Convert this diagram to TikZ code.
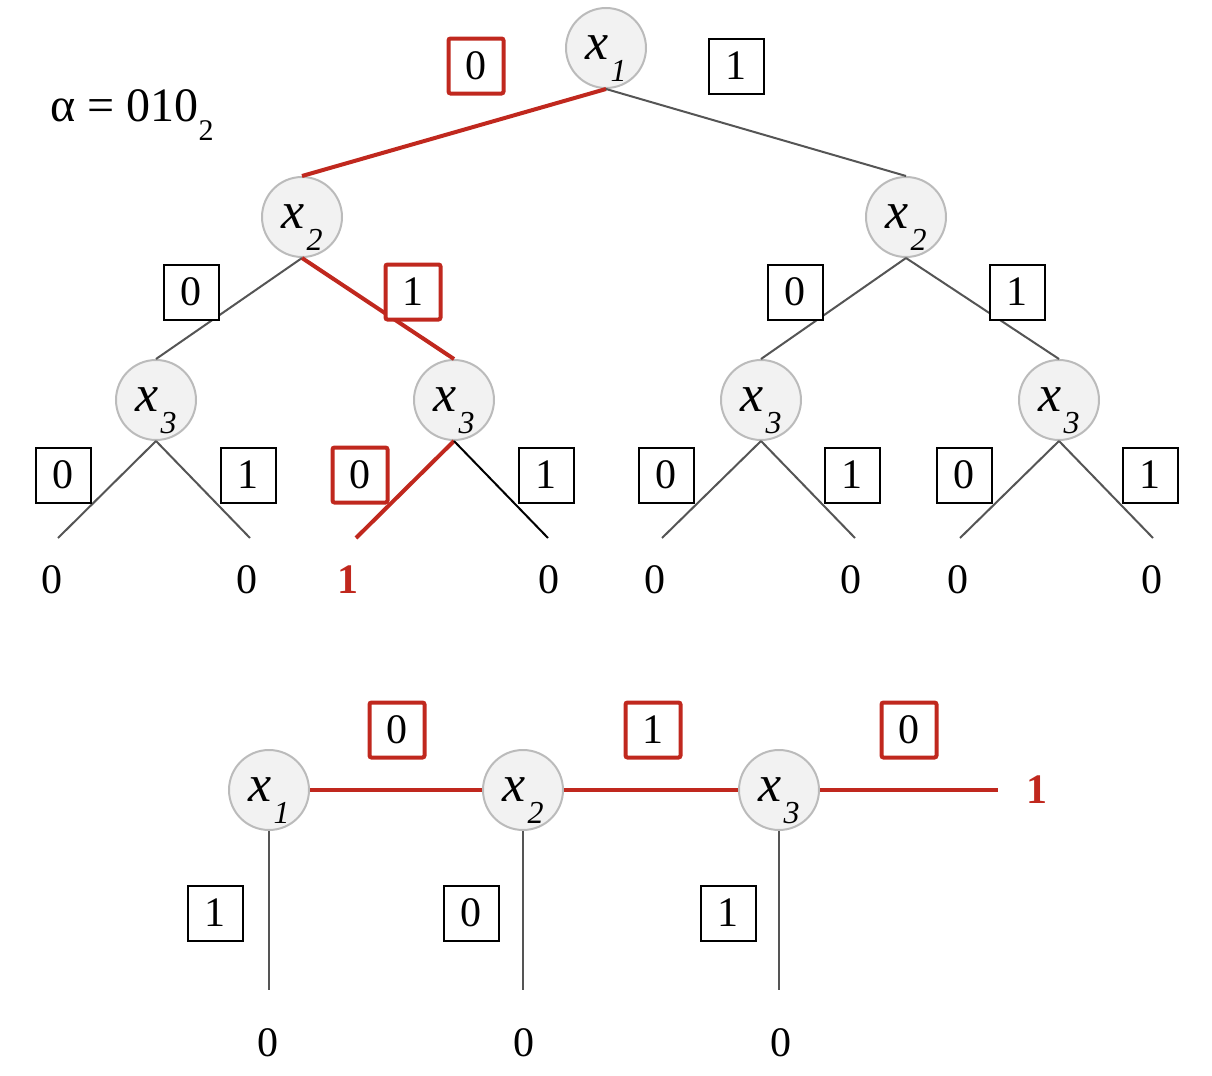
\documentclass[tikz,border=0pt]{standalone}
\usepackage{fontspec}
\setmainfont{Liberation Serif}
\definecolor{myred}{HTML}{C0281E}
\definecolor{edgegray}{HTML}{555555}
\definecolor{circgray}{HTML}{BBBBBB}
\definecolor{circfill}{HTML}{F2F2F2}
\newcommand\nvar[1]{\textit{x}\kern1pt\raisebox{-11pt}[0pt][0pt]{\fontsize{16}{16}\selectfont\textit{#1}}}
\tikzset{
  var/.style={circle, draw=circgray, fill=circfill, line width=1pt, minimum size=40pt, inner sep=0pt, font=\fontsize{26}{26}\selectfont},
  lab/.style={draw=black, line width=1pt, fill=white, minimum size=27.5pt, inner sep=0pt, font=\fontsize{21}{21}\selectfont},
  redlab/.style={lab, draw=myred, line width=2pt, rounded corners=1pt},
  leaf/.style={inner sep=0pt, font=\fontsize{21}{21}\selectfont},
  redleaf/.style={inner sep=0pt, text=myred, font=\fontsize{21}{21}\selectfont\bfseries},
  edge/.style={draw=edgegray, line width=1pt},
  redge/.style={draw=myred, line width=2pt},
}
\begin{document}
\begin{tikzpicture}[x=0.5pt,y=-0.5pt]
\useasboundingbox (0,0) rectangle (1212,1076);
% alpha label
\node[anchor=base west, inner sep=0pt, font=\fontsize{24}{24}\selectfont] (alpha) at (50,121) {α = 010\raisebox{-9.5pt}{\fontsize{15}{15}\selectfont 2}};
% top tree nodes
\node[var] (a) at (606,48) {\nvar{1}};
\node[var] (bl) at (302,217) {\nvar{2}};
\node[var] (br) at (906,217) {\nvar{2}};
\node[var] (c1) at (156,400) {\nvar{3}};
\node[var] (c2) at (454,400) {\nvar{3}};
\node[var] (c3) at (761,400) {\nvar{3}};
\node[var] (c4) at (1059,400) {\nvar{3}};
% leaf coordinates
\coordinate (l1) at (58,538);  \coordinate (l2) at (250,538);
\coordinate (l3) at (356,538); \coordinate (l4) at (548,538);
\coordinate (l5) at (662,538); \coordinate (l6) at (855,538);
\coordinate (l7) at (960,538); \coordinate (l8) at (1153,538);
% edges
\draw[redge] (a.south) -- (bl.north);
\draw[edge] (a.south) -- (br.north);
\draw[edge] (bl.south) -- (c1.north);
\draw[redge] (bl.south) -- (c2.north);
\draw[edge] (br.south) -- (c3.north);
\draw[edge] (br.south) -- (c4.north);
\draw[edge] (c1.south) -- (l1);
\draw[edge] (c1.south) -- (l2);
\draw[redge] (c2.south) -- (l3);
\draw[draw=black, line width=1pt] (c2.south) -- (l4);
\draw[edge] (c3.south) -- (l5);
\draw[edge] (c3.south) -- (l6);
\draw[edge] (c4.south) -- (l7);
\draw[edge] (c4.south) -- (l8);
% edge labels
\node[redlab] (ea0) at (476,66) {0};
\node[lab] (ea1) at (736,66) {1};
\node[lab] (ebl0) at (191,292) {0};
\node[redlab] (ebl1) at (413,292) {1};
\node[lab] (ebr0) at (795,292) {0};
\node[lab] (ebr1) at (1017,292) {1};
\node[lab] (ec10) at (63,475) {0};
\node[lab] (ec11) at (248,475) {1};
\node[redlab] (ec20) at (360,475) {0};
\node[lab] (ec21) at (546,475) {1};
\node[lab] (ec30) at (666,475) {0};
\node[lab] (ec31) at (852,475) {1};
\node[lab] (ec40) at (964,475) {0};
\node[lab] (ec41) at (1150,475) {1};
% leaf values
\node[leaf] (v1) at (52,580) {0};
\node[leaf] (v2) at (247,580) {0};
\node[redleaf] (v3) at (348,580) {1};
\node[leaf] (v4) at (549,580) {0};
\node[leaf] (v5) at (655,580) {0};
\node[leaf] (v6) at (851,580) {0};
\node[leaf] (v7) at (958,580) {0};
\node[leaf] (v8) at (1152,580) {0};
% bottom chain
\node[var] (p1) at (269,790) {\nvar{1}};
\node[var] (p2) at (523,790) {\nvar{2}};
\node[var] (p3) at (779,790) {\nvar{3}};
\coordinate (pend) at (998,790);
\coordinate (q1) at (269,990);
\coordinate (q2) at (523,990);
\coordinate (q3) at (779,990);
\draw[redge] (p1.east) -- (p2.west);
\draw[redge] (p2.east) -- (p3.west);
\draw[redge] (p3.east) -- (pend);
\draw[edge] (p1.south) -- (q1);
\draw[edge] (p2.south) -- (q2);
\draw[edge] (p3.south) -- (q3);
\node[redleaf] (pone) at (1037,790) {1};
\node[redlab] (pl1) at (397,730) {0};
\node[redlab] (pl2) at (653,730) {1};
\node[redlab] (pl3) at (909,730) {0};
\node[lab] (ql1) at (215,913) {1};
\node[lab] (ql2) at (471,913) {0};
\node[lab] (ql3) at (728,913) {1};
\node[leaf] (w1) at (268,1043) {0};
\node[leaf] (w2) at (524,1043) {0};
\node[leaf] (w3) at (781,1043) {0};
\end{tikzpicture}
\end{document}
